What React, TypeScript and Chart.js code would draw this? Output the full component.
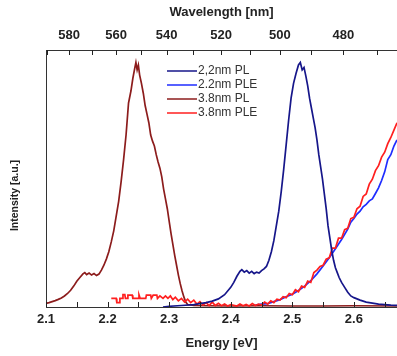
import { useEffect, useRef } from "react";
import { Chart, registerables } from "chart.js";

Chart.register(...registerables);

const HC = 1239.84;
const FONT = '"Liberation Sans", Arial, sans-serif';

// 2,2nm PL (navy)
const PL22_E = [2.29, 2.30, 2.32, 2.34, 2.36, 2.37, 2.38, 2.39, 2.40, 2.405, 2.41, 2.415, 2.418, 2.422, 2.426, 2.430, 2.434, 2.438, 2.442, 2.446, 2.450, 2.454, 2.458, 2.462, 2.466, 2.470, 2.474, 2.478, 2.482, 2.486, 2.490, 2.494, 2.498, 2.502, 2.506, 2.510, 2.513, 2.516, 2.519, 2.522, 2.525, 2.528, 2.531, 2.534, 2.537, 2.540, 2.543, 2.546, 2.549, 2.552, 2.555, 2.558, 2.561, 2.564, 2.567, 2.570, 2.573, 2.576, 2.580, 2.585, 2.590, 2.595, 2.600, 2.610, 2.620, 2.630, 2.640, 2.650, 2.660, 2.670];
const PL22_I = [0.0, 0.003, 0.006, 0.010, 0.018, 0.024, 0.033, 0.05, 0.08, 0.10, 0.125, 0.145, 0.152, 0.142, 0.148, 0.138, 0.145, 0.136, 0.142, 0.138, 0.148, 0.155, 0.165, 0.19, 0.225, 0.27, 0.33, 0.39, 0.47, 0.56, 0.66, 0.76, 0.85, 0.91, 0.95, 0.985, 0.995, 0.965, 0.975, 0.94, 0.90, 0.85, 0.81, 0.77, 0.73, 0.68, 0.62, 0.57, 0.52, 0.46, 0.40, 0.33, 0.28, 0.23, 0.19, 0.16, 0.14, 0.12, 0.10, 0.08, 0.06, 0.045, 0.038, 0.028, 0.02, 0.016, 0.012, 0.01, 0.008, 0.007];

// 2.2nm PLE (blue)
const PLE22_E = [2.44, 2.45, 2.46, 2.47, 2.48, 2.49, 2.50, 2.51, 2.52, 2.53, 2.54, 2.55, 2.56, 2.57, 2.58, 2.59, 2.595, 2.60, 2.605, 2.61, 2.615, 2.62, 2.625, 2.63, 2.635, 2.64, 2.645, 2.65, 2.655, 2.66, 2.665, 2.67];
const PLE22_I = [0.008, 0.012, 0.014, 0.022, 0.03, 0.042, 0.052, 0.067, 0.085, 0.107, 0.135, 0.167, 0.2, 0.237, 0.275, 0.317, 0.345, 0.36, 0.378, 0.39, 0.408, 0.418, 0.432, 0.44, 0.462, 0.485, 0.515, 0.55, 0.6, 0.62, 0.655, 0.68];

// 3.8nm PL (dark red)
const PL38_E = [2.100, 2.105, 2.110, 2.115, 2.120, 2.125, 2.130, 2.135, 2.140, 2.145, 2.150, 2.155, 2.160, 2.163, 2.166, 2.170, 2.174, 2.178, 2.182, 2.186, 2.190, 2.194, 2.198, 2.202, 2.206, 2.210, 2.214, 2.218, 2.222, 2.226, 2.230, 2.234, 2.238, 2.241, 2.244, 2.246, 2.248, 2.250, 2.252, 2.255, 2.258, 2.261, 2.264, 2.267, 2.270, 2.273, 2.276, 2.279, 2.282, 2.285, 2.288, 2.291, 2.294, 2.297, 2.300, 2.303, 2.306, 2.309, 2.312, 2.315, 2.318, 2.321, 2.324, 2.327, 2.330, 2.34, 2.36, 2.40, 2.45, 2.50, 2.55, 2.60, 2.67];
const PL38_I = [0.015, 0.018, 0.022, 0.026, 0.031, 0.037, 0.045, 0.055, 0.068, 0.085, 0.105, 0.120, 0.135, 0.140, 0.132, 0.138, 0.130, 0.136, 0.128, 0.134, 0.150, 0.170, 0.195, 0.225, 0.265, 0.31, 0.37, 0.43, 0.51, 0.60, 0.70, 0.83, 0.88, 0.93, 0.97, 0.995, 0.965, 0.985, 0.945, 0.91, 0.87, 0.82, 0.785, 0.75, 0.70, 0.675, 0.655, 0.62, 0.59, 0.565, 0.53, 0.48, 0.44, 0.40, 0.35, 0.30, 0.255, 0.21, 0.17, 0.13, 0.095, 0.065, 0.04, 0.02, 0.01, 0.006, 0.005, 0.004, 0.005, 0.004, 0.004, 0.005, 0.004];

// 3.8nm PLE (red)
const PLE38_E = [2.206, 2.214, 2.215, 2.219, 2.220, 2.224, 2.225, 2.228, 2.229, 2.232, 2.233, 2.240, 2.241, 2.250, 2.251, 2.253, 2.262, 2.263, 2.270, 2.271, 2.274, 2.280, 2.281, 2.285, 2.290, 2.294, 2.298, 2.302, 2.306, 2.31, 2.315, 2.32, 2.325, 2.33, 2.335, 2.34, 2.345, 2.35, 2.355, 2.36, 2.365, 2.37, 2.375, 2.38, 2.385, 2.39, 2.395, 2.40, 2.41, 2.415, 2.42, 2.425, 2.43, 2.435, 2.44, 2.445, 2.45, 2.455, 2.46, 2.465, 2.47, 2.475, 2.48, 2.485, 2.49, 2.495, 2.50, 2.505, 2.51, 2.515, 2.52, 2.525, 2.53, 2.535, 2.54, 2.545, 2.55, 2.555, 2.56, 2.565, 2.57, 2.575, 2.58, 2.585, 2.59, 2.595, 2.60, 2.605, 2.61, 2.615, 2.62, 2.625, 2.63, 2.635, 2.64, 2.645, 2.65, 2.655, 2.66, 2.665, 2.67];
const PLE38_I = [0.035, 0.035, 0.018, 0.018, 0.035, 0.035, 0.05, 0.05, 0.035, 0.035, 0.048, 0.048, 0.035, 0.035, 0.05, 0.035, 0.035, 0.048, 0.048, 0.035, 0.048, 0.048, 0.035, 0.045, 0.035, 0.045, 0.035, 0.045, 0.03, 0.04, 0.025, 0.035, 0.02, 0.032, 0.018, 0.028, 0.012, 0.022, 0.008, 0.018, 0.006, 0.02, 0.006, 0.015, 0.005, 0.012, 0.004, 0.01, 0.004, 0.012, 0.005, 0.01, 0.004, 0.014, 0.006, 0.012, 0.008, 0.02, 0.012, 0.025, 0.018, 0.032, 0.028, 0.042, 0.038, 0.055, 0.05, 0.07, 0.062, 0.085, 0.08, 0.105, 0.1, 0.14, 0.15, 0.165, 0.17, 0.195, 0.2, 0.24, 0.24, 0.28, 0.28, 0.315, 0.32, 0.36, 0.365, 0.4, 0.41, 0.45, 0.46, 0.5, 0.52, 0.555, 0.575, 0.61, 0.63, 0.665, 0.69, 0.72, 0.75];

const SERIES_LABELS = ["2,2nm PL", "2.2nm PLE", "3.8nm PL", "3.8nm PLE"];
const SERIES_COLORS = ["#16168a", "#1f2dff", "#8c1c1c", "#ff1f1f"];
const SERIES_ORDER = [0, 3, 2, 1];

const ENERGY_TICKS = [2.1, 2.15, 2.2, 2.25, 2.3, 2.35, 2.4, 2.45, 2.5, 2.55, 2.6, 2.65];
const WAVELENGTH_TICKS = [590, 580, 570, 560, 550, 540, 530, 520, 510, 500, 490, 480, 470];
const WAVELENGTH_LABELS = [580, 560, 540, 520, 500, 480];

const X_TITLE = "Energy [eV]";
const X2_TITLE = "Wavelength [nm]";
const Y_TITLE = "Intensity [a.u.]";

const X_MIN = 2.1;
const X_MAX = 2.67;
const Y_MIN = 0;
const Y_MAX = 1.046;

const toPoints = (xs: number[], ys: number[]) => xs.map((x, i) => ({ x, y: ys[i] }));

const legendPlugin = {
  id: "insideLegend",
  afterDatasetsDraw(chart: any) {
    const ctx = chart.ctx;
    const { left, top } = chart.chartArea;
    ctx.save();
    chart.data.datasets.forEach((ds: any, i: number) => {
      const y = top + 21 + i * 14;
      ctx.strokeStyle = ds.borderColor;
      ctx.lineWidth = 1.5;
      ctx.beginPath();
      ctx.moveTo(left + 121, y);
      ctx.lineTo(left + 151, y);
      ctx.stroke();
      ctx.fillStyle = "#333";
      ctx.font = `12px ${FONT}`;
      ctx.textBaseline = "middle";
      ctx.textAlign = "left";
      ctx.fillText(ds.label, left + 152, y);
    });
    ctx.restore();
  },
};

// inward tick marks on the top and bottom axes
const inwardTicksPlugin = {
  id: "inwardTicks",
  afterDraw(chart: any) {
    const ctx = chart.ctx;
    const area = chart.chartArea;
    ctx.save();
    ctx.strokeStyle = "#222";
    ctx.lineWidth = 1;
    const draw = (scale: any, y0: number, dir: number) => {
      for (let i = 0; i < scale.ticks.length; i++) {
        const x = Math.round(scale.getPixelForTick(i)) + 0.5;
        ctx.beginPath();
        ctx.moveTo(x, y0);
        ctx.lineTo(x, y0 + dir * 5);
        ctx.stroke();
      }
    };
    draw(chart.scales.x, area.bottom, -1);
    draw(chart.scales.x2, area.top, 1);
    ctx.restore();
  },
};

const yTitlePlugin = {
  id: "yTitle",
  afterDraw(chart: any) {
    const ctx = chart.ctx;
    const { top, bottom } = chart.chartArea;
    ctx.save();
    ctx.translate(15, (top + bottom) / 2 + 17);
    ctx.rotate(-Math.PI / 2);
    ctx.font = `bold 10.5px ${FONT}`;
    ctx.fillStyle = "#222";
    ctx.textAlign = "center";
    ctx.textBaseline = "middle";
    ctx.fillText(Y_TITLE, 0, 0);
    ctx.restore();
  },
};

export default function App() {
  const ref = useRef<HTMLCanvasElement | null>(null);

  useEffect(() => {
    if (!ref.current) return;
    const series = [
      toPoints(PL22_E, PL22_I),
      toPoints(PLE22_E, PLE22_I),
      toPoints(PL38_E, PL38_I),
      toPoints(PLE38_E, PLE38_I),
    ];
    const chart = new Chart(ref.current, {
      type: "line",
      data: {
        datasets: series.map((data, i) => ({
          label: SERIES_LABELS[i],
          data,
          borderColor: SERIES_COLORS[i],
          backgroundColor: SERIES_COLORS[i],
          borderWidth: 1.7,
          pointRadius: 0,
          tension: 0,
          fill: false,
          order: SERIES_ORDER[i],
          xAxisID: "x",
          yAxisID: "y",
        })),
      },
      options: {
        animation: false,
        responsive: false,
        devicePixelRatio: 1,
        layout: { padding: 0 },
        plugins: {
          legend: { display: false },
          tooltip: { enabled: false },
        },
        scales: {
          x: {
            type: "linear",
            position: "bottom",
            min: X_MIN,
            max: X_MAX,
            afterBuildTicks: (s: any) => {
              s.ticks = ENERGY_TICKS.map((v) => ({ value: v }));
            },
            afterFit: (s: any) => {
              s.height = 49;
            },
            ticks: {
              autoSkip: false,
              maxRotation: 0,
              minRotation: 0,
              padding: 5,
              color: "#222",
              font: { family: FONT, size: 13, weight: "bold" },
              callback: (v: any) => {
                const n = Number(v) * 10;
                return Math.abs(n - Math.round(n)) < 1e-6 ? Number(v).toFixed(1) : "";
              },
            },
            grid: { display: true, drawOnChartArea: false, drawTicks: false, color: "#333" },
            border: { display: true, color: "#333", width: 1 },
            title: {
              display: true,
              text: X_TITLE,
              color: "#222",
              font: { family: FONT, size: 13, weight: "bold" },
              padding: { top: 0, bottom: 5 },
            },
          },
          x2: {
            type: "linear",
            position: "top",
            min: X_MIN,
            max: X_MAX,
            afterBuildTicks: (s: any) => {
              s.ticks = WAVELENGTH_TICKS.map((w) => HC / w)
                .filter((e) => e >= X_MIN && e <= X_MAX)
                .map((e) => ({ value: e }));
            },
            afterFit: (s: any) => {
              s.height = 50;
            },
            ticks: {
              autoSkip: false,
              maxRotation: 0,
              minRotation: 0,
              padding: 7,
              color: "#222",
              font: { family: FONT, size: 13, weight: "bold" },
              callback: (v: any) => {
                const w = Math.round(HC / Number(v));
                return WAVELENGTH_LABELS.includes(w) ? String(w) : "";
              },
            },
            grid: { display: true, drawOnChartArea: false, drawTicks: false, color: "#333" },
            border: { display: true, color: "#333", width: 1 },
            title: {
              display: true,
              text: X2_TITLE,
              color: "#222",
              font: { family: FONT, size: 13, weight: "bold" },
              padding: { top: 5, bottom: 0 },
            },
          },
          y: {
            type: "linear",
            position: "left",
            min: Y_MIN,
            max: Y_MAX,
            afterFit: (s: any) => {
              s.width = 46;
            },
            ticks: { display: false },
            grid: { display: false },
            border: { display: true, color: "#333", width: 1 },
          },
        },
      },
      plugins: [legendPlugin, inwardTicksPlugin, yTitlePlugin],
    });
    return () => chart.destroy();
  }, []);

  return (
    <div style={{ position: "absolute", left: 0, top: 0, width: 397, height: 356, background: "#fff" }}>
      <canvas ref={ref} width={397} height={356} />
    </div>
  );
}
